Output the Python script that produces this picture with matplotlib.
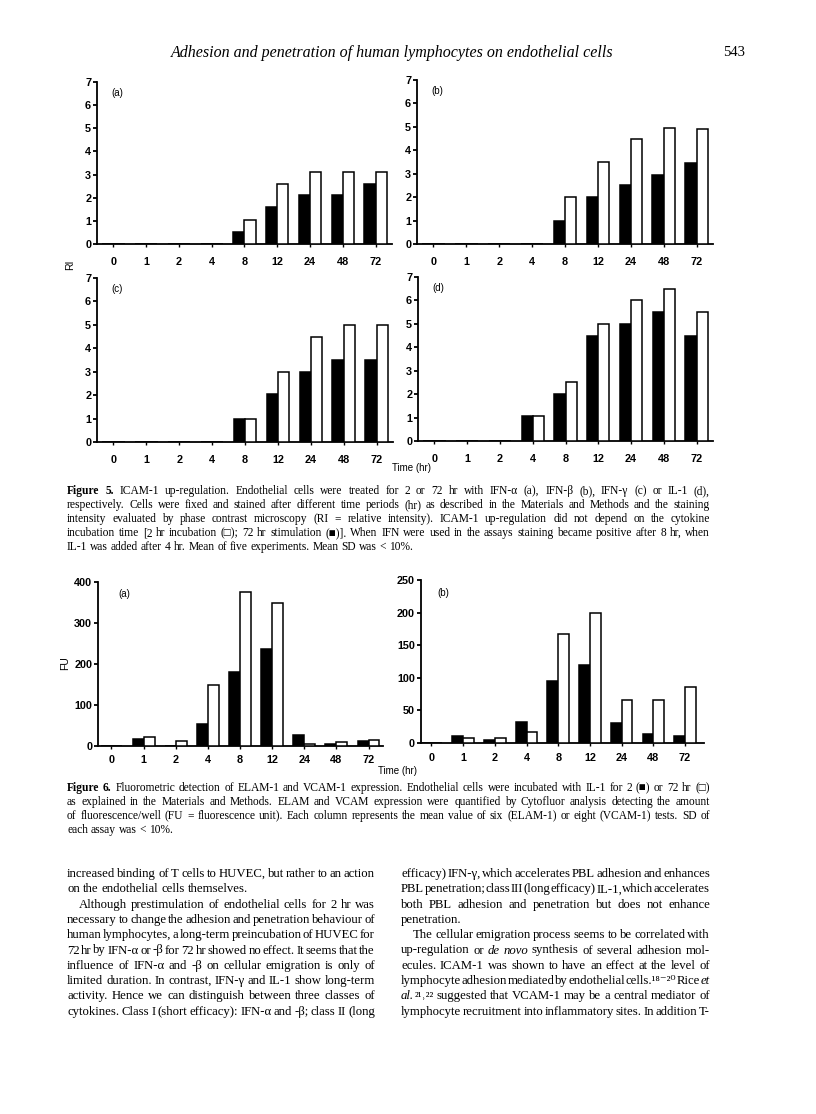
import matplotlib
matplotlib.use("Agg")
import matplotlib.pyplot as plt

W, H = 816, 1114

# ---------------- data ----------------
times = ['0', '1', '2', '4', '8', '12', '24', '48', '72']

# Figure 5 (RI) : black = 72 hr stimulation, white = 2 hr incubation
ri_a_72 = [0, 0, 0, 0, 0.5, 1.6, 2.1, 2.1, 2.6]
ri_a_2 = [0, 0, 0, 0, 1.05, 2.6, 3.1, 3.1, 3.1]
ri_b_72 = [0, 0, 0, 0, 1.0, 2.0, 2.5, 2.95, 3.45]
ri_b_2 = [0, 0, 0, 0, 2.0, 3.5, 4.5, 4.95, 4.9]
ri_c_72 = [0, 0, 0, 0, 1.0, 2.05, 3.0, 3.5, 3.5]
ri_c_2 = [0, 0, 0, 0, 1.0, 3.0, 4.5, 5.0, 5.0]
ri_d_72 = [0, 0, 0, 1.05, 2.0, 4.5, 5.0, 5.5, 4.5]
ri_d_2 = [0, 0, 0, 1.05, 2.5, 5.0, 6.0, 6.5, 5.5]

# Figure 6 (FU) : black = 2 hr, white = 72 hr
fu_a_2 = [0, 16, 0, 52, 180, 236, 25, 3, 11]
fu_a_72 = [0, 22, 11, 147, 375, 347, 4, 8, 14]
fu_b_2 = [0, 10, 4, 32, 95, 119, 31, 14, 11]
fu_b_72 = [0, 7, 8, 17, 167, 200, 66, 66, 86]

ri_ticks = [0, 1, 2, 3, 4, 5, 6, 7]
fu_a_ticks = [0, 100, 200, 300, 400]
fu_b_ticks = [0, 50, 100, 150, 200, 250]

header = "Adhesion and penetration of human lymphocytes on endothelial cells"
page_no = "543"

cap5 = [
    "*Figure* *5.* ICAM-1 up-regulation. Endothelial cells were treated for 2 or 72 hr with IFN-α (a), IFN-β (b), IFN-γ (c) or IL-1 (d),",
    "respectively. Cells were fixed and stained after different time periods (hr) as described in the Materials and Methods and the staining",
    "intensity evaluated by phase contrast microscopy (RI = relative intensity). ICAM-1 up-regulation did not depend on the cytokine",
    "incubation time [2 hr incubation (□); 72 hr stimulation (■)]. When IFN were used in the assays staining became positive after 8 hr, when",
    "IL-1 was added after 4 hr. Mean of five experiments. Mean SD was < 10%.",
]
cap6 = [
    "*Figure* *6.* Fluorometric detection of ELAM-1 and VCAM-1 expression. Endothelial cells were incubated with IL-1 for 2 (■) or 72 hr (□)",
    "as explained in the Materials and Methods. ELAM and VCAM expression were quantified by Cytofluor analysis detecting the amount",
    "of fluorescence/well (FU = fluorescence unit). Each column represents the mean value of six (ELAM-1) or eight (VCAM-1) tests. SD of",
    "each assay was < 10%.",
]
body_left = [
    "increased binding of T cells to HUVEC, but rather to an action",
    "on the endothelial cells themselves.",
    "Although prestimulation of endothelial cells for 2 hr was",
    "necessary to change the adhesion and penetration behaviour of",
    "human lymphocytes, a long-term preincubation of HUVEC for",
    "72 hr by IFN-α or -β for 72 hr showed no effect. It seems that the",
    "influence of IFN-α and -β on cellular emigration is only of",
    "limited duration. In contrast, IFN-γ and IL-1 show long-term",
    "activity. Hence we can distinguish between three classes of",
    "cytokines. Class I (short efficacy): IFN-α and -β; class II (long",
]
body_right = [
    "efficacy) IFN-γ, which accelerates PBL adhesion and enhances",
    "PBL penetration; class III (long efficacy) IL-1, which accelerates",
    "both PBL adhesion and penetration but does not enhance",
    "penetration.",
    "The cellular emigration process seems to be correlated with",
    "up-regulation or _de_ _novo_ synthesis of several adhesion mol-",
    "ecules. ICAM-1 was shown to have an effect at the level of",
    "lymphocyte adhesion mediated by endothelial cells.¹⁸⁻²⁰ Rice _et_",
    "_al._²¹˒²² suggested that VCAM-1 may be a central mediator of",
    "lymphocyte recruitment into inflammatory sites. In addition T-",
]

# ---------------- figure ----------------
fig = plt.figure(figsize=(W / 100, H / 100), dpi=100)
fig.patch.set_facecolor('white')
renderer = fig.canvas.get_renderer()

SERIF = ['Liberation Serif', 'DejaVu Serif', 'DejaVu Sans']
SANS = ['Liberation Sans', 'DejaVu Sans']


def px(x, y):
    return x / W, 1 - y / H


def add_ax(l, r, top, bot):
    return fig.add_axes([l / W, 1 - bot / H, (r - l) / W, (bot - top) / H])


def bar_panel(ax, black, white, yticks, ymax, xlim, label, lx, ly, xpad):
    idx = list(range(len(times)))
    w = 0.34
    ax.bar([i - w / 2 for i in idx], black, width=w, color='black',
           edgecolor='black', linewidth=1.1, zorder=3)
    ax.bar([i + w / 2 for i in idx], white, width=w, color='white',
           edgecolor='black', linewidth=1.1, zorder=3)
    ax.set_xlim(*xlim)
    ax.set_ylim(0, ymax)
    ax.set_xticks(idx)
    ax.set_xticklabels(times)
    ax.set_yticks(yticks)
    ax.set_yticklabels([str(t) for t in yticks])
    for s in ('top', 'right'):
        ax.spines[s].set_visible(False)
    for s in ('left', 'bottom'):
        ax.spines[s].set_linewidth(1.3)
    ax.tick_params(axis='y', direction='out', length=3, width=1.3, pad=1.2)
    ax.tick_params(axis='x', direction='out', length=2.2, width=1.0, pad=xpad)
    for t in ax.get_xticklabels() + ax.get_yticklabels():
        t.set_family(SANS)
        t.set_fontsize(7.8)
        t.set_fontweight('bold')
    ax.text(lx, ly, label, transform=ax.transAxes, fontsize=7,
            family=SANS, ha='left', va='center')
    ax.patch.set_alpha(0)


xl5 = (-0.5, 8.5)
ax = add_ax(97, 392, 82, 244)
bar_panel(ax, ri_a_72, ri_a_2, ri_ticks, 7, xl5, '(a)', 0.05, 0.93, 7.0)
ax = add_ax(417, 713, 80, 244)
bar_panel(ax, ri_b_72, ri_b_2, ri_ticks, 7, xl5, '(b)', 0.05, 0.93, 7.0)
ax = add_ax(97, 393, 278, 442)
bar_panel(ax, ri_c_72, ri_c_2, ri_ticks, 7, xl5, '(c)', 0.05, 0.93, 7.0)
ax = add_ax(418, 713, 277, 441)
bar_panel(ax, ri_d_72, ri_d_2, ri_ticks, 7, xl5, '(d)', 0.05, 0.93, 7.0)

ax = add_ax(98, 383, 581.7, 745.7)
bar_panel(ax, fu_a_2, fu_a_72, fu_a_ticks, 400, (-0.42, 8.45), '(a)', 0.07, 0.925, 4.8)
ax = add_ax(420.7, 704, 580, 743)
bar_panel(ax, fu_b_2, fu_b_72, fu_b_ticks, 250, (-0.34, 8.6), '(b)', 0.06, 0.92, 4.8)

fig.text(*px(70, 265), 'RI', rotation=90, fontsize=7.5, family=SANS,
         ha='center', va='center')
fig.text(*px(65, 663), 'FU', rotation=90, fontsize=7.5, family=SANS,
         ha='center', va='center')
fig.text(*px(411, 468), 'Time (hr)', fontsize=7, family=SANS, ha='center', va='center')
fig.text(*px(398, 771), 'Time (hr)', fontsize=7, family=SANS, ha='center', va='center')

# header
fig.text(*px(392, 53), header, fontsize=11.5, family=SERIF, style='italic',
         ha='center', va='center')
fig.text(*px(745, 53), page_no, fontsize=10.5, family=SERIF,
         ha='right', va='center')


def parse(line):
    toks = []
    for w in line.split(' '):
        if w.startswith('*') and w.endswith('*') and len(w) > 1:
            toks.append((w[1:-1], 'b'))
        elif w.startswith('_') and '_' in w[1:]:
            j = w.index('_', 1)
            toks.append((w[1:j], 'i'))
            if w[j + 1:]:
                toks.append((w[j + 1:], 'n+'))
        else:
            toks.append((w, 'n'))
    return toks


def draw_line(x0, x1, y, line, size, justify):
    toks = parse(line)
    items = []
    for word, st in toks:
        kw = dict(fontsize=size, family=SERIF, va='baseline', ha='left')
        if st == 'b':
            kw['fontweight'] = 'bold'
        if st == 'i':
            kw['style'] = 'italic'
        t = fig.text(0, 0, word, **kw)
        wpx = t.get_window_extent(renderer).width
        items.append((t, wpx, st))
    sp = fig.text(0, 0, 'a a', fontsize=size, family=SERIF)
    sp2 = fig.text(0, 0, 'aa', fontsize=size, family=SERIF)
    space = sp.get_window_extent(renderer).width - sp2.get_window_extent(renderer).width
    sp.remove()
    sp2.remove()
    gaps = sum(1 for it in items[1:] if it[2] != 'n+')
    total = sum(it[1] for it in items)
    if justify and gaps > 0:
        space = (x1 - x0 - total) / gaps
    x = x0
    for k, (t, wpx, st) in enumerate(items):
        if k > 0 and st != 'n+':
            x += space
        t.set_position(px(x, y))
        x += wpx


def draw_block(x0, x1, y0, dy, lines, size, nojust=(), indent=()):
    for k, line in enumerate(lines):
        xs = x0 + (12 if k in indent else 0)
        draw_line(xs, x1, y0 + k * dy, line, size, k not in nojust)


draw_block(67, 710, 494, 14, cap5, 8.3, nojust=(4,))
draw_block(67, 710, 791, 14, cap6, 8.3, nojust=(3,))
draw_block(67, 375, 877, 15.3, body_left, 9.2, nojust=(1,), indent=(2,))
draw_block(401, 710, 877, 15.3, body_right, 9.2, nojust=(3,), indent=(4,))

fig.savefig('out.png', dpi=100, facecolor='white')
